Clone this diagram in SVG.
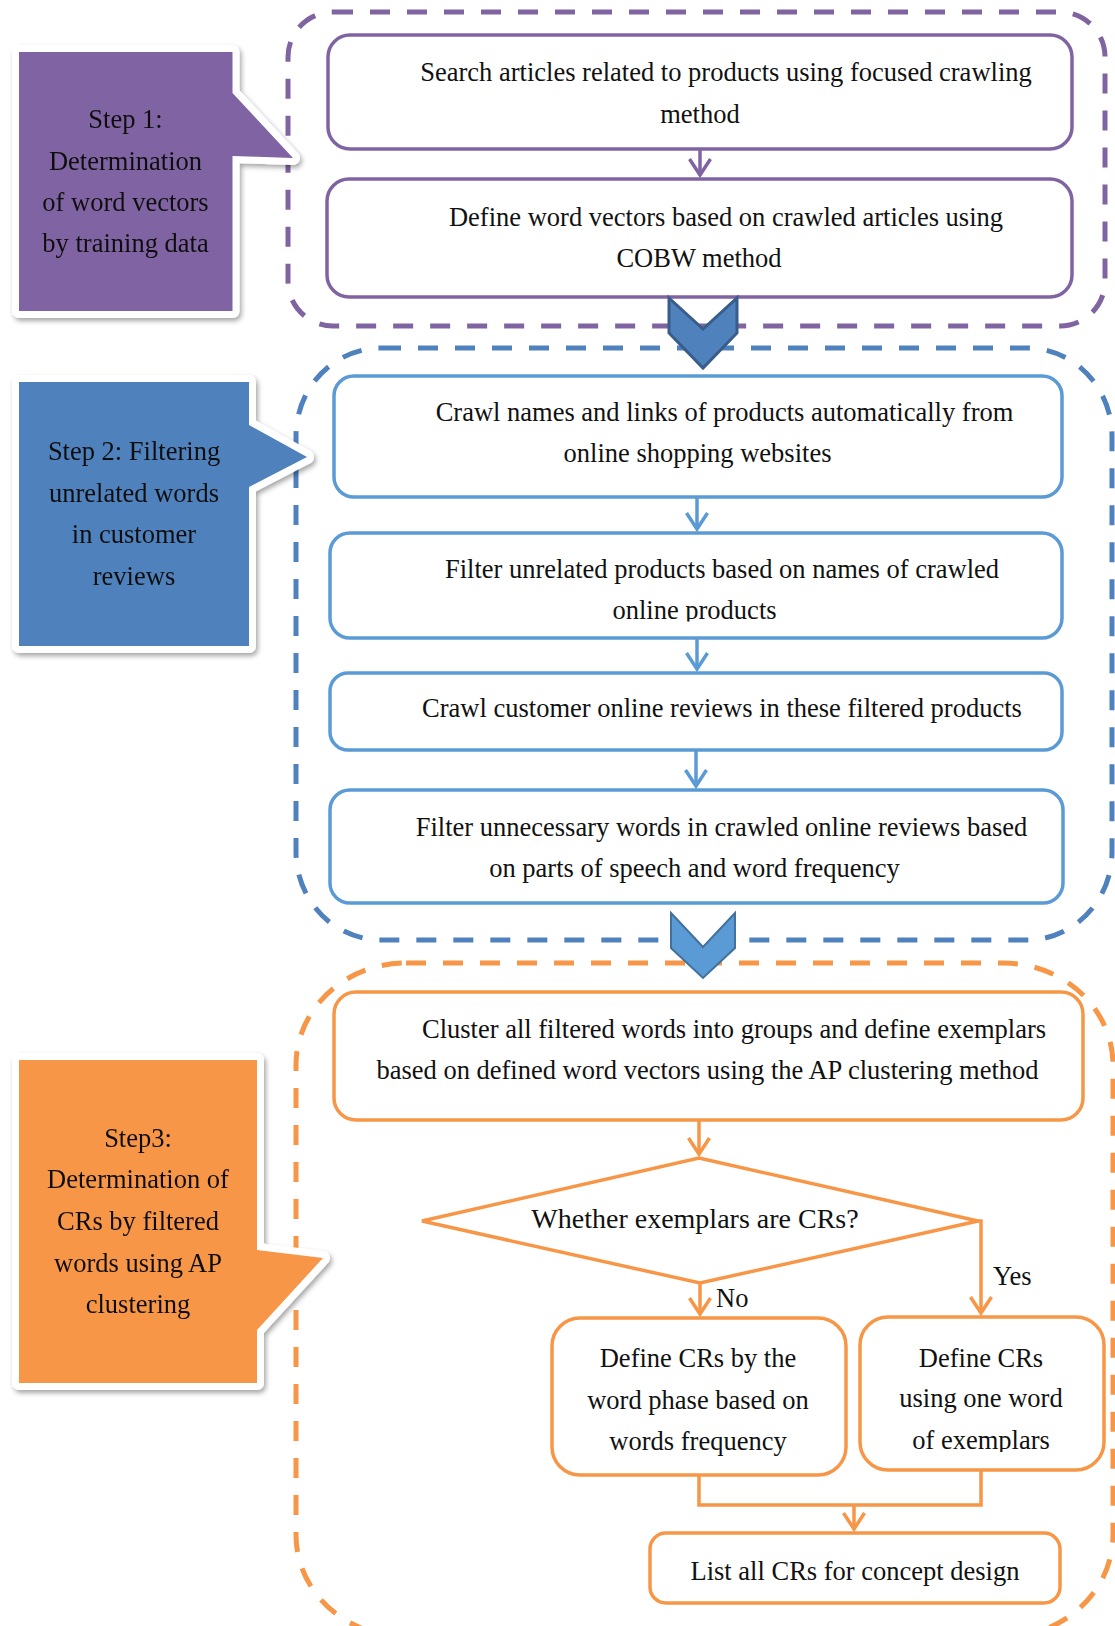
<svg xmlns="http://www.w3.org/2000/svg" width="1115" height="1626" viewBox="0 0 1115 1626">
  <style>
    .t { font-family: "Liberation Serif", "Times New Roman", serif; font-size: 26.5px; fill: #111; text-anchor: middle; }
    .box { fill: #fff; stroke-width: 3.5; }
    .p { stroke: #8064A2; }
    .b { stroke: #5B9BD5; }
    .o { stroke: #F79646; }
    .frame { fill: none; stroke-width: 5; stroke-dasharray: 20 17; }
    .conn { fill: none; stroke-width: 3.5; }
    .callout { stroke: #fff; stroke-width: 14; stroke-linejoin: round; paint-order: stroke; }
    .lbl { text-anchor: start; }
  </style>
  <defs>
    <filter id="shadow" x="-10%" y="-10%" width="130%" height="130%">
      <feDropShadow dx="2" dy="3" stdDeviation="2.5" flood-color="#000" flood-opacity="0.35"/>
    </filter>
    <marker id="ahP" markerUnits="userSpaceOnUse" viewBox="-20 -14 24 28" markerWidth="24" markerHeight="28" refX="0" refY="0" orient="auto" overflow="visible">
      <path d="M-16,-10.5 L0,0 L-16,10.5" fill="none" stroke="#8064A2" stroke-width="3.5"/>
    </marker>
    <marker id="ahB" markerUnits="userSpaceOnUse" viewBox="-20 -14 24 28" markerWidth="24" markerHeight="28" refX="0" refY="0" orient="auto" overflow="visible">
      <path d="M-16,-10.5 L0,0 L-16,10.5" fill="none" stroke="#5B9BD5" stroke-width="3.5"/>
    </marker>
    <marker id="ahO" markerUnits="userSpaceOnUse" viewBox="-20 -14 24 28" markerWidth="24" markerHeight="28" refX="0" refY="0" orient="auto" overflow="visible">
      <path d="M-16,-10.5 L0,0 L-16,10.5" fill="none" stroke="#F79646" stroke-width="3.5"/>
    </marker>
    <clipPath id="clipB4"><rect x="330" y="533" width="732" height="88.5"/></clipPath>
    <clipPath id="clipO9"><rect x="860" y="1317" width="244" height="135"/></clipPath>
  </defs>

  <!-- dashed stage frames -->
  <g id="frames">
    <rect id="frame-step1" class="frame p" x="288" y="12" width="817" height="314" rx="45" ry="45"/>
    <rect id="frame-step2" class="frame" style="stroke:#4F81BD" x="296" y="348" width="816" height="592" rx="85" ry="88"/>
    <rect id="frame-step3" class="frame o" x="296" y="963" width="817" height="674" rx="110" ry="102"/>
  </g>

  <!-- step 1 -->
  <g id="n-search">
    <rect class="box p" x="328" y="35" width="744" height="114" rx="22"/>
    <text class="t" x="726" y="81">Search articles related to products using focused crawling</text>
    <text class="t" x="700" y="123">method</text>
  </g>
  <g id="n-vectors">
    <rect class="box p" x="327" y="179" width="745" height="118" rx="22"/>
    <text class="t" x="726" y="226">Define word vectors based on crawled articles using</text>
    <text class="t" x="699" y="267">COBW method</text>
  </g>

  <!-- step 2 -->
  <g id="n-crawl-names">
    <rect class="box b" x="334" y="376" width="728" height="121" rx="20"/>
    <text class="t" x="724.5" y="421">Crawl names and links of products automatically from</text>
    <text class="t" x="697.5" y="462">online shopping websites</text>
  </g>
  <g id="n-filter-products">
    <rect class="box b" x="330" y="533" width="732" height="105" rx="20"/>
    <text class="t" x="722" y="578">Filter unrelated products based on names of crawled</text>
    <text class="t" x="694.5" y="619" clip-path="url(#clipB4)">online products</text>
  </g>
  <g id="n-crawl-reviews">
    <rect class="box b" x="330" y="673" width="732" height="77" rx="18"/>
    <text class="t" x="722" y="717">Crawl customer online reviews in these filtered products</text>
  </g>
  <g id="n-filter-words">
    <rect class="box b" x="330" y="790" width="733" height="113" rx="20"/>
    <text class="t" x="721.5" y="836">Filter unnecessary words in crawled online reviews based</text>
    <text class="t" x="694.5" y="877">on parts of speech and word frequency</text>
  </g>

  <!-- step 3 -->
  <g id="n-cluster">
    <rect class="box o" x="334" y="992" width="749" height="128" rx="22"/>
    <text class="t" x="734" y="1038">Cluster all filtered words into groups and define exemplars</text>
    <text class="t" x="707.5" y="1079">based on defined word vectors using the AP clustering method</text>
  </g>
  <g id="n-decision">
    <polygon class="box o" points="699,1158 978,1221 700,1283 422,1221"/>
    <text class="t" x="695" y="1228" style="font-size:28px">Whether exemplars are CRs?</text>
  </g>
  <g id="n-phrase">
    <rect class="box o" x="552" y="1318" width="294" height="157" rx="28"/>
    <text class="t" x="698" y="1367">Define CRs by the</text>
    <text class="t" x="698" y="1409">word phase based on</text>
    <text class="t" x="698" y="1450">words frequency</text>
  </g>
  <g id="n-oneword">
    <rect class="box o" x="860" y="1317" width="244" height="153" rx="28"/>
    <text class="t" x="981" y="1367">Define CRs</text>
    <text class="t" x="981" y="1407">using one word</text>
    <text class="t" x="981" y="1449" clip-path="url(#clipO9)">of exemplars</text>
  </g>
  <g id="n-list">
    <rect class="box o" x="650" y="1533" width="410" height="70" rx="16"/>
    <text class="t" x="855" y="1580">List all CRs for concept design</text>
  </g>

  <!-- connectors -->
  <g id="connectors">
    <path class="conn p" d="M700,149 V175" marker-end="url(#ahP)"/>
    <path class="conn b" d="M697,497 V529" marker-end="url(#ahB)"/>
    <path class="conn b" d="M697,638 V669" marker-end="url(#ahB)"/>
    <path class="conn b" d="M696,750 V786" marker-end="url(#ahB)"/>
    <path class="conn o" d="M699,1120 V1154" marker-end="url(#ahO)"/>
    <path class="conn o" d="M700,1283 V1314" marker-end="url(#ahO)"/>
    <path class="conn o" d="M978,1221 H981 V1313" marker-end="url(#ahO)"/>
    <path class="conn o" d="M699,1475 V1505 H981 V1470"/>
    <path class="conn o" d="M854,1505 V1529" marker-end="url(#ahO)"/>
    <text class="t lbl" x="993" y="1285">Yes</text>
    <text class="t lbl" x="716" y="1307">No</text>
    <!-- stage-to-stage chevrons -->
    <polygon points="669,298 703,329 737,298 737,333 703,368 669,333" fill="#4F81BD" stroke="#385D8A" stroke-width="3" stroke-linejoin="miter"/>
    <polygon points="671,913 703,947 735,913 735,948 703,978 671,948" fill="#5B9BD5" stroke="#41719C" stroke-width="2"/>
  </g>

  <!-- stage callouts -->
  <g id="step1" filter="url(#shadow)">
    <path class="callout" fill="#8064A2" d="M19,52 H232.5 V93 L293,158 L232.5,156 V311 H19 Z"/>
    <text class="t" x="125.5" y="128">Step 1:</text>
    <text class="t" x="125.5" y="170">Determination</text>
    <text class="t" x="125.5" y="211">of word vectors</text>
    <text class="t" x="125.5" y="252">by training data</text>
  </g>
  <g id="step2" filter="url(#shadow)">
    <path class="callout" fill="#4F81BD" d="M19,382 H249 V425 L307,457 L249,487 V646 H19 Z"/>
    <text class="t" x="134" y="460">Step 2: Filtering</text>
    <text class="t" x="134" y="502">unrelated words</text>
    <text class="t" x="134" y="543">in customer</text>
    <text class="t" x="134" y="585">reviews</text>
  </g>
  <g id="step3" filter="url(#shadow)">
    <path class="callout" fill="#F79646" d="M19,1060 H257 V1250 L323,1258 L257,1330 V1383 H19 Z"/>
    <text class="t" x="138" y="1147">Step3:</text>
    <text class="t" x="138" y="1188">Determination of</text>
    <text class="t" x="138" y="1230">CRs by filtered</text>
    <text class="t" x="138" y="1272">words using AP</text>
    <text class="t" x="138" y="1313">clustering</text>
  </g>
</svg>
